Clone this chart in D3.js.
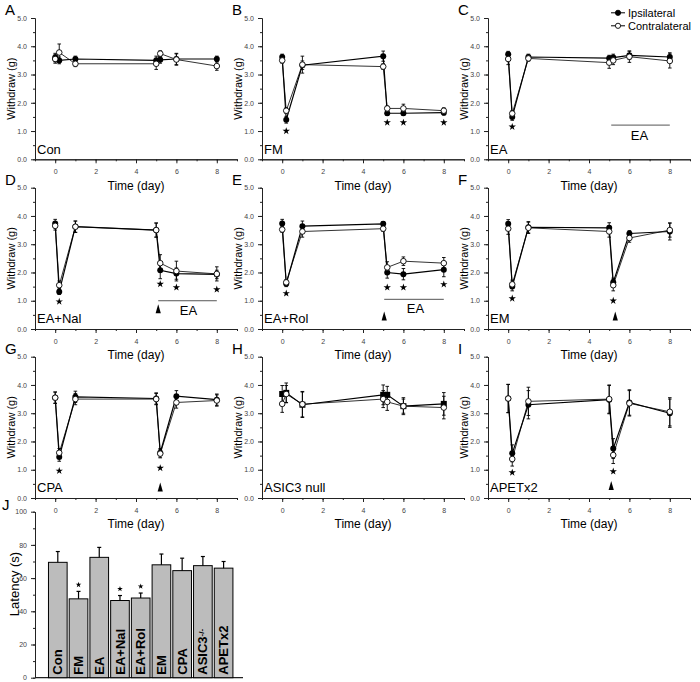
<!DOCTYPE html>
<html lang="en">
<head>
<meta charset="UTF-8">
<title>Withdraw threshold and latency</title>
<script src="https://d3js.org/d3.v7.min.js"></script>
<style>
    body { margin: 0; padding: 0; background: #fff; }
    svg text { font-family: "Liberation Sans", Arial, sans-serif; }
</style>
</head>
<body>
<div id="chart"></div>
<script>
// time points (day) shared by panels A-I
const days = [0, 0.2, 1, 5, 5.2, 6, 8];
const panelLetters = ["A", "B", "C", "D", "E", "F", "G", "H", "I"];
const panelNames = ["Con", "FM", "EA", "EA+Nal", "EA+Rol", "EM", "CPA", "ASIC3 null", "APETx2"];

const ipsiMeans = [
    [3.60, 3.50, 3.55, 3.50, 3.52, 3.55, 3.55],
    [3.62, 1.40, 3.33, 3.65, 1.63, 1.63, 1.65],
    [3.72, 1.50, 3.62, 3.58, 3.60, 3.68, 3.62],
    [3.73, 1.32, 3.62, 3.50, 2.08, 1.96, 1.93],
    [3.73, 1.60, 3.64, 3.72, 2.00, 1.94, 2.10],
    [3.72, 1.50, 3.60, 3.58, 1.65, 3.38, 3.45],
    [3.55, 1.45, 3.58, 3.52, 1.60, 3.60, 3.48],
    [3.68, 3.72, 3.30, 3.65, 3.65, 3.25, 3.33],
    [3.52, 1.58, 3.30, 3.48, 1.75, 3.38, 3.00]
];
const ipsiErrs = [
    [0.15, 0.12, 0.10, 0.15, 0.12, 0.20, 0.10],
    [0.10, 0.12, 0.15, 0.18, 0.08, 0.08, 0.08],
    [0.10, 0.12, 0.10, 0.10, 0.12, 0.15, 0.15],
    [0.15, 0.10, 0.20, 0.25, 0.30, 0.20, 0.15],
    [0.15, 0.10, 0.18, 0.08, 0.20, 0.20, 0.25],
    [0.15, 0.15, 0.20, 0.18, 0.15, 0.10, 0.30],
    [0.20, 0.15, 0.20, 0.20, 0.15, 0.20, 0.20],
    [0.30, 0.35, 0.45, 0.35, 0.30, 0.30, 0.40],
    [0.50, 0.30, 0.50, 0.50, 0.35, 0.45, 0.50]
];
const contraMeans = [
    [3.55, 3.78, 3.38, 3.38, 3.74, 3.53, 3.30],
    [3.50, 1.72, 3.35, 3.28, 1.80, 1.80, 1.72],
    [3.55, 1.62, 3.57, 3.42, 3.50, 3.63, 3.48],
    [3.65, 1.55, 3.62, 3.50, 2.33, 2.05, 1.95],
    [3.52, 1.65, 3.45, 3.55, 2.18, 2.40, 2.33],
    [3.55, 1.58, 3.58, 3.45, 1.55, 3.22, 3.50],
    [3.55, 1.60, 3.50, 3.50, 1.57, 3.38, 3.45],
    [3.33, 3.68, 3.32, 3.50, 3.40, 3.25, 3.20],
    [3.52, 1.38, 3.42, 3.50, 1.52, 3.35, 3.05]
];
const contraErrs = [
    [0.15, 0.30, 0.10, 0.20, 0.10, 0.20, 0.15],
    [0.10, 0.10, 0.30, 0.10, 0.08, 0.15, 0.10],
    [0.20, 0.10, 0.10, 0.20, 0.15, 0.20, 0.25],
    [0.15, 0.15, 0.20, 0.25, 0.30, 0.35, 0.25],
    [0.10, 0.10, 0.20, 0.10, 0.20, 0.15, 0.20],
    [0.20, 0.15, 0.20, 0.20, 0.20, 0.15, 0.25],
    [0.20, 0.15, 0.20, 0.20, 0.15, 0.20, 0.20],
    [0.30, 0.30, 0.45, 0.30, 0.30, 0.25, 0.40],
    [0.50, 0.25, 0.50, 0.50, 0.30, 0.45, 0.50]
];

// significance stars and EA / injection markers (data units)
const starDays = [[], [0.2, 5.2, 6, 8], [0.2], [0.2, 5.2, 6, 8], [0.2, 5.2, 6, 8], [0.2, 5.2], [0.2, 5.2], [], [0.2, 5.2]];
const starValues = [[], [1.0, 1.3, 1.3, 1.3], [1.15], [0.97, 1.59, 1.47, 1.4], [1.26, 1.47, 1.47, 1.58], [1.08, 1.0], [0.96, 1.06], [], [0.9, 0.94]];
const eaPanels = [2, 3, 4];
const eaStart = [5.1, 5.1, 5.05];
const eaEnd = [8.0, 8.0, 8.0];
const eaLevel = [1.21, 1.0, 1.05];
const eaTextDay = [6.5, 6.6, 6.6];
const eaTextLevel = [0.86, 0.65, 0.73];
const arrowPanels = [3, 4, 5, 6, 8];
const arrowDays = [5.1, 5.05, 5.3, 5.2, 5.1];
const arrowTips = [0.88, 0.62, 0.62, 0.55, 0.6];

// panel J
const latencyGroups = ["Con", "FM", "EA", "EA+Nal", "EA+Rol", "EM", "CPA", "ASIC3", "APETx2"];
const latencyMeans = [69.5, 47.5, 72.5, 46.5, 48, 68, 64.5, 67.5, 66];
const latencyErrs = [6.5, 4.5, 6, 3, 3, 6.5, 7.5, 5.5, 4];
const latencyStars = ["FM", "EA+Nal", "EA+Rol"];
const latencyStarValues = [56, 53.5, 55];

const W = 700, H = 682;
const colX = [35, 262, 488];
const rowY = [159.3, 329, 498];   // x-axis line of each row
const plotW = 202, plotH = 141.3;

const svg = d3.select("#chart").append("svg")
    .attr("width", W).attr("height", H);

const x = d3.scaleLinear().domain([-1, 9]).range([0, plotW]);
const y = d3.scaleLinear().domain([0, 5]).range([plotH, 0]);
const star = d3.symbol().type(d3.symbolStar).size(17);

function styleAxis(g) {
    g.selectAll("path, line").attr("stroke", "#222").attr("stroke-width", 1);
    g.selectAll("text").attr("fill", "#444").style("font-size", "7px");
}

function errorBars(g, means, errs, xs) {
    means.forEach((m, i) => {
        const cx = x(xs[i]);
        g.append("line").attr("x1", cx).attr("x2", cx)
            .attr("y1", y(m - errs[i])).attr("y2", y(m + errs[i]))
            .attr("stroke", "#000").attr("stroke-width", 0.9);
        [m - errs[i], m + errs[i]].forEach(v => {
            g.append("line").attr("x1", cx - 1.8).attr("x2", cx + 1.8)
                .attr("y1", y(v)).attr("y2", y(v))
                .attr("stroke", "#000").attr("stroke-width", 0.9);
        });
    });
}

panelLetters.forEach((letter, p) => {
    const col = p % 3, row = Math.floor(p / 3);
    const g = svg.append("g")
        .attr("transform", `translate(${colX[col]},${rowY[row] - plotH})`);

    // axes, major + minor ticks
    g.append("g").attr("transform", `translate(0,${plotH})`)
        .call(d3.axisBottom(x).tickValues(d3.range(-1, 10)).tickSize(2).tickSizeOuter(0).tickFormat(""))
        .call(styleAxis);
    g.append("g").attr("transform", `translate(0,${plotH})`)
        .call(d3.axisBottom(x).tickValues([0, 2, 4, 6, 8]).tickSize(4).tickPadding(6).tickSizeOuter(0))
        .call(styleAxis);
    g.append("g")
        .call(d3.axisLeft(y).tickValues(d3.range(0, 5.01, 0.5)).tickSize(2).tickSizeOuter(0).tickFormat(""))
        .call(styleAxis);
    g.append("g")
        .call(d3.axisLeft(y).tickValues([0, 1, 2, 3, 4, 5]).tickSize(4).tickPadding(4).tickSizeOuter(0))
        .call(styleAxis);

    g.append("text")
        .attr("x", plotW / 2).attr("y", plotH + 26).attr("dy", "0.35em")
        .attr("text-anchor", "middle").style("font-size", "12px")
        .text("Time (day)");
    g.append("text")
        .attr("transform", `translate(-24,${plotH / 2}) rotate(-90)`)
        .attr("dy", "0.35em").attr("text-anchor", "middle").style("font-size", "11px")
        .text("Withdraw (g)");
    g.append("text")
        .attr("x", -30).attr("y", -3).style("font-size", "15px")
        .text(letter);
    g.append("text")
        .attr("x", 2).attr("y", plotH - 5.5).style("font-size", "13px")
        .text(panelNames[p]);

    const line = d3.line().x((d, i) => x(days[i])).y(d => y(d));
    g.append("path").datum(contraMeans[p])
        .attr("fill", "none").attr("stroke", "#333").attr("stroke-width", 1)
        .attr("d", line);
    g.append("path").datum(ipsiMeans[p])
        .attr("fill", "none").attr("stroke", "#000").attr("stroke-width", 1.2)
        .attr("d", line);

    errorBars(g, ipsiMeans[p], ipsiErrs[p], days);
    errorBars(g, contraMeans[p], contraErrs[p], days);

    if (p === 7) {
        g.selectAll(".ipsi").data(ipsiMeans[p]).enter().append("rect")
            .attr("x", (d, i) => x(days[i]) - 3).attr("y", d => y(d) - 3)
            .attr("width", 6).attr("height", 6).attr("fill", "#000");
    } else {
        g.selectAll(".ipsi").data(ipsiMeans[p]).enter().append("circle")
            .attr("cx", (d, i) => x(days[i])).attr("cy", d => y(d))
            .attr("r", 3).attr("fill", "#000");
    }
    g.selectAll(".contra").data(contraMeans[p]).enter().append("circle")
        .attr("cx", (d, i) => x(days[i])).attr("cy", d => y(d))
        .attr("r", 2.8).attr("fill", "#fff").attr("stroke", "#000").attr("stroke-width", 0.9);

    starDays[p].forEach((d, i) => {
        g.append("path").attr("d", star)
            .attr("transform", `translate(${x(d)},${y(starValues[p][i])})`)
            .attr("fill", "#000");
    });

    const e = eaPanels.indexOf(p);
    if (e >= 0) {
        g.append("line")
            .attr("x1", x(eaStart[e])).attr("x2", x(eaEnd[e]))
            .attr("y1", y(eaLevel[e])).attr("y2", y(eaLevel[e]))
            .attr("stroke", "#555").attr("stroke-width", 1);
        g.append("text")
            .attr("x", x(eaTextDay[e])).attr("y", y(eaTextLevel[e])).attr("dy", "0.35em")
            .attr("text-anchor", "middle").style("font-size", "13px")
            .text("EA");
    }
    const a = arrowPanels.indexOf(p);
    if (a >= 0) {
        const ax = x(arrowDays[a]), ay = y(arrowTips[a]);
        g.append("path")
            .attr("d", `M${ax},${ay} L${ax + 2.6},${ay + 9} L${ax - 2.6},${ay + 9} Z`)
            .attr("fill", "#000");
    }

    // legend in panel C
    if (p === 2) {
        const leg = [["Ipsilateral", "#000"], ["Contralateral", "#fff"]];
        leg.forEach((l, i) => {
            const ly = 12.8 - (rowY[0] - plotH) + i * 13;
            g.append("line").attr("x1", 123).attr("x2", 137).attr("y1", ly).attr("y2", ly)
                .attr("stroke", "#000").attr("stroke-width", 1);
            g.append("circle").attr("cx", 130).attr("cy", ly).attr("r", 2.6)
                .attr("fill", l[1]).attr("stroke", "#000").attr("stroke-width", 0.9);
            g.append("text").attr("x", 140).attr("y", ly).attr("dy", "0.35em")
                .style("font-size", "11px").text(l[0]);
        });
    }
});

// panel J: latency bars
const jTop = 511.7, jBottom = 677.7;
const xb = d3.scaleBand().domain(latencyGroups).range([46.4, 235]).padding(0.1);
const yb = d3.scaleLinear().domain([0, 100]).range([jBottom, jTop]);
const gj = svg.append("g");

gj.append("g").attr("transform", "translate(35,0)")
    .call(d3.axisLeft(yb).tickValues(d3.range(0, 101, 10)).tickSize(2).tickSizeOuter(0).tickFormat(""))
    .call(styleAxis);
gj.append("g").attr("transform", "translate(35,0)")
    .call(d3.axisLeft(yb).tickValues([0, 20, 40, 60, 80, 100]).tickSize(4).tickPadding(4).tickSizeOuter(0))
    .call(styleAxis);
gj.append("line").attr("x1", 35).attr("x2", 243).attr("y1", jBottom).attr("y2", jBottom)
    .attr("stroke", "#222").attr("stroke-width", 1.2);

gj.selectAll(".bar").data(latencyGroups).enter().append("rect")
    .attr("x", d => xb(d)).attr("width", xb.bandwidth())
    .attr("y", (d, i) => yb(latencyMeans[i]))
    .attr("height", (d, i) => jBottom - yb(latencyMeans[i]))
    .attr("fill", "#bcbcbc").attr("stroke", "#000").attr("stroke-width", 1);

latencyGroups.forEach((d, i) => {
    const cx = xb(d) + xb.bandwidth() / 2;
    const top = yb(latencyMeans[i] + latencyErrs[i]);
    gj.append("line").attr("x1", cx).attr("x2", cx)
        .attr("y1", yb(latencyMeans[i])).attr("y2", top)
        .attr("stroke", "#000").attr("stroke-width", 1.2);
    gj.append("line").attr("x1", cx - 2).attr("x2", cx + 2)
        .attr("y1", top).attr("y2", top)
        .attr("stroke", "#000").attr("stroke-width", 1.2);

    const t = gj.append("text")
        .attr("transform", `translate(${cx},${jBottom - 3}) rotate(-90)`)
        .attr("dy", "0.35em").style("font-size", "13px").style("font-weight", "bold");
    if (d === "ASIC3") {
        t.append("tspan").text("ASIC3");
        t.append("tspan").attr("dy", "-0.45em").style("font-size", "8px").text("-/-");
    } else {
        t.text(d);
    }
});

latencyStars.forEach((d, i) => {
    gj.append("path").attr("d", d3.symbol().type(d3.symbolStar).size(10))
        .attr("transform", `translate(${xb(d) + xb.bandwidth() / 2},${yb(latencyStarValues[i])})`)
        .attr("fill", "#000");
});

gj.append("text")
    .attr("transform", "translate(14,584) rotate(-90)")
    .attr("dy", "0.35em").attr("text-anchor", "middle").style("font-size", "13px")
    .text("Latency (s)");
gj.append("text").attr("x", 2).attr("y", 510).style("font-size", "15px").text("J");
</script>
</body>
</html>
